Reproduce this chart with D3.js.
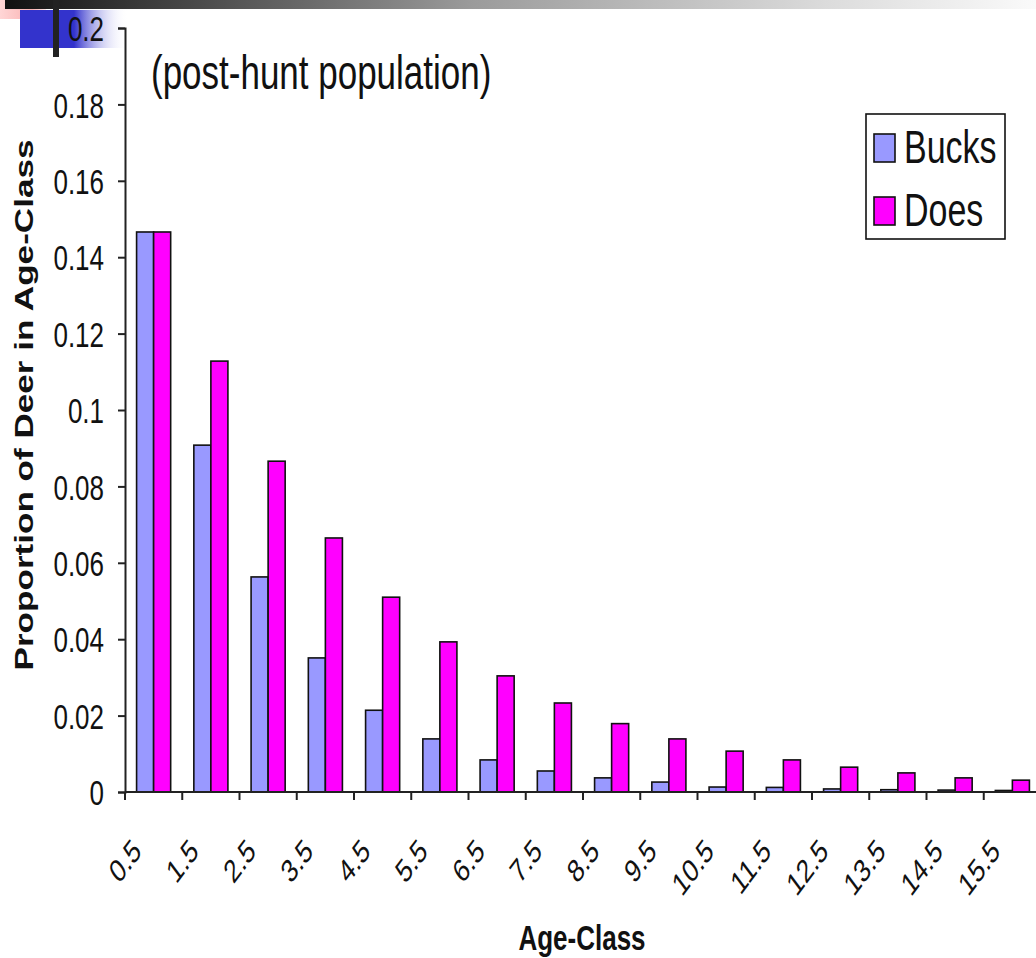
<!DOCTYPE html>
<html>
<head>
<meta charset="utf-8">
<script src="https://cdn.jsdelivr.net/npm/d3@7"></script>
<style>
  html, body { margin: 0; padding: 0; background: #fff; }
  svg { display: block; }
  text { font-family: "Liberation Sans", Arial, sans-serif; fill: #111; }
</style>
</head>
<body>
<svg id="chart" width="1036" height="958"></svg>
<script>
// Age classes (years) and proportion of the post-hunt herd in each class
const ageClasses = ["0.5","1.5","2.5","3.5","4.5","5.5","6.5","7.5","8.5","9.5","10.5","11.5","12.5","13.5","14.5","15.5"];
const bucks = [0.1466, 0.0908, 0.0563, 0.0351, 0.0214, 0.0139, 0.0084, 0.0055, 0.0037, 0.0026, 0.0013, 0.0012, 0.0008, 0.0006, 0.0005, 0.0004];
const does  = [0.1466, 0.1128, 0.0866, 0.0665, 0.0510, 0.0393, 0.0304, 0.0233, 0.0179, 0.0139, 0.0107, 0.0084, 0.0065, 0.0050, 0.0037, 0.0031];
const seriesNames = ["Bucks", "Does"];
const seriesColors = ["#9999ff", "#ff00ff"];
const yTickValues = [0, 0.02, 0.04, 0.06, 0.08, 0.1, 0.12, 0.14, 0.16, 0.18, 0.2];
const yTickLabels = ["0", "0.02", "0.04", "0.06", "0.08", "0.1", "0.12", "0.14", "0.16", "0.18", "0.2"];

const svg = d3.select("#chart");
const stretch = 1.35; // text is drawn taller than wide

// ---- slide decoration in the top-left corner ----
const defs = svg.append("defs");
const topGrad = defs.append("linearGradient").attr("id", "topRule");
topGrad.append("stop").attr("offset", "0%").attr("stop-color", "#111");
topGrad.append("stop").attr("offset", "45%").attr("stop-color", "#9a9a9a");
topGrad.append("stop").attr("offset", "80%").attr("stop-color", "#dcdcdc");
topGrad.append("stop").attr("offset", "100%").attr("stop-color", "#fafafa");
const blueGrad = defs.append("linearGradient").attr("id", "blueBlock");
blueGrad.append("stop").attr("offset", "0%").attr("stop-color", "#3333cc");
blueGrad.append("stop").attr("offset", "50%").attr("stop-color", "#3333cc");
blueGrad.append("stop").attr("offset", "100%").attr("stop-color", "#ffffff").attr("stop-opacity", 0);
const pinkGrad = defs.append("linearGradient").attr("id", "pinkBlock");
pinkGrad.append("stop").attr("offset", "0%").attr("stop-color", "#ffd6d6");
pinkGrad.append("stop").attr("offset", "70%").attr("stop-color", "#f9b3b3");
pinkGrad.append("stop").attr("offset", "100%").attr("stop-color", "#ffe8e8");

svg.append("rect").attr("x", 0).attr("y", 0).attr("width", 46).attr("height", 19).attr("fill", "url(#pinkBlock)");
svg.append("rect").attr("x", 20).attr("y", 10).attr("width", 108).attr("height", 38).attr("fill", "url(#blueBlock)");
svg.append("rect").attr("x", 5).attr("y", 0).attr("width", 1031).attr("height", 9).attr("fill", "url(#topRule)");
svg.append("rect").attr("x", 53).attr("y", 0).attr("width", 6).attr("height", 57).attr("fill", "#222");

// ---- scales ----
const x0 = d3.scaleBand().domain(ageClasses).range([125, 1041]).padding(0);
const x1 = d3.scaleBand().domain(seriesNames).range([0, x0.bandwidth()]).paddingInner(0).paddingOuter(0.68);
const y = d3.scaleLinear().domain([0, 0.2]).range([792, 28]);
const color = d3.scaleOrdinal().domain(seriesNames).range(seriesColors);

const rows = ageClasses.map((a, i) => ({ age: a, values: [
  { key: "Bucks", value: bucks[i] },
  { key: "Does", value: does[i] }
]}));

// ---- bars ----
const groups = svg.append("g").selectAll("g").data(rows).join("g")
  .attr("transform", d => `translate(${x0(d.age)},0)`);
groups.selectAll("rect").data(d => d.values).join("rect")
  .attr("x", d => x1(d.key))
  .attr("y", d => y(d.value))
  .attr("width", x1.bandwidth())
  .attr("height", d => y(0) - y(d.value))
  .attr("fill", d => color(d.key))
  .attr("stroke", "#111")
  .attr("stroke-width", 1.6);

// ---- y axis ----
const yAxis = svg.append("g").attr("transform", "translate(125,0)")
  .call(d3.axisLeft(y).tickValues(yTickValues).tickFormat((d, i) => yTickLabels[i]).tickSize(7).tickPadding(14));
yAxis.select(".domain").attr("stroke", "#222").attr("stroke-width", 2);
yAxis.selectAll(".tick line").attr("stroke", "#222").attr("stroke-width", 2);
yAxis.selectAll(".tick text")
  .attr("font-family", "Liberation Sans, Arial, sans-serif")
  .attr("font-size", 26).attr("fill", "#1a1a1a")
  .attr("dy", "0.36em")
  .attr("transform", `scale(1,${stretch})`);

// ---- x axis: tick marks sit between categories ----
const xAxis = svg.append("g").attr("transform", "translate(0,792)")
  .call(d3.axisBottom(x0).tickSize(8).tickSizeOuter(0));
xAxis.select(".domain").attr("stroke", "#222").attr("stroke-width", 2).attr("d", "M125,0H1036");
xAxis.selectAll(".tick line").attr("stroke", "#222").attr("stroke-width", 2)
  .attr("transform", `translate(${-x0.step() / 2},0)`);
xAxis.selectAll(".tick text")
  .attr("font-family", "Liberation Sans, Arial, sans-serif")
  .attr("font-size", 24).attr("fill", "#1a1a1a")
  .attr("text-anchor", "end")
  .attr("y", 0).attr("dy", 0)
  .attr("transform", `translate(-11,61) scale(1,${stretch}) rotate(-45)`);

// ---- titles ----
svg.append("text")
  .attr("transform", `translate(33,405) scale(1,${stretch}) rotate(-90)`)
  .attr("text-anchor", "middle")
  .attr("font-weight", "bold").attr("font-size", 26)
  .text("Proportion of Deer in Age-Class");

svg.append("text")
  .attr("transform", `translate(582,950) scale(1,${stretch})`)
  .attr("text-anchor", "middle")
  .attr("font-weight", "bold").attr("font-size", 26)
  .text("Age-Class");

svg.append("text")
  .attr("transform", `translate(151,89) scale(1,${stretch})`)
  .attr("font-size", 35)
  .text("(post-hunt population)");

// ---- legend ----
const legend = svg.append("g");
legend.append("rect").attr("x", 866).attr("y", 114).attr("width", 139).attr("height", 125)
  .attr("fill", "#fff").attr("stroke", "#111").attr("stroke-width", 1.6);
const items = legend.selectAll("g.item").data(seriesNames).join("g")
  .attr("class", "item")
  .attr("transform", (d, i) => `translate(0,${i * 63})`);
items.append("rect").attr("x", 874).attr("y", 134).attr("width", 21).attr("height", 28)
  .attr("fill", d => color(d)).attr("stroke", "#111").attr("stroke-width", 1.6);
items.append("text")
  .attr("transform", `translate(904,163) scale(1,${stretch})`)
  .attr("font-size", 34)
  .text(d => d);
</script>
</body>
</html>
